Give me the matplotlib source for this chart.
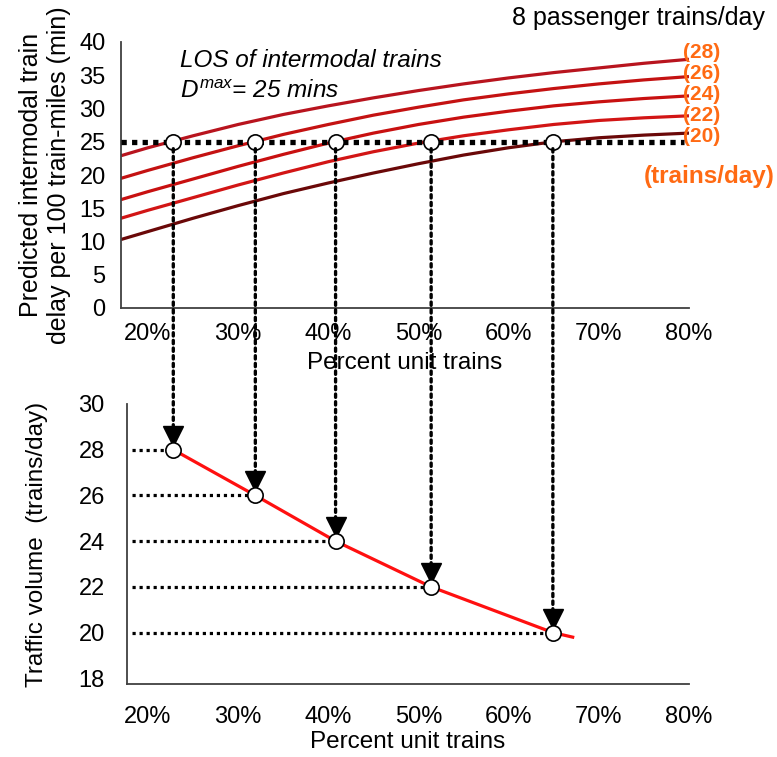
import matplotlib
matplotlib.use("Agg")
import matplotlib.pyplot as plt
import matplotlib.transforms as mtransforms
from matplotlib.patches import ConnectionPatch

plt.rcParams['font.family'] = ['Liberation Sans', 'DejaVu Sans']
plt.rcParams['mathtext.fontset'] = 'custom'
plt.rcParams['mathtext.rm'] = 'Liberation Sans'
plt.rcParams['mathtext.it'] = 'Liberation Sans:italic'

# top chart: delay vs percent unit trains, one curve per traffic level
pct_unit = [17, 20, 25, 30, 35, 40, 45, 50, 55, 60, 65, 70, 75, 80]
delay_28 = [22.9, 24.1, 25.9, 27.6, 29.1, 30.4, 31.6, 32.7, 33.7, 34.6, 35.4, 36.1, 36.8, 37.4]
delay_26 = [19.5, 20.7, 22.6, 24.4, 26.1, 27.6, 29.0, 30.2, 31.3, 32.2, 33.0, 33.7, 34.3, 34.8]
delay_24 = [16.3, 17.5, 19.4, 21.3, 23.1, 24.8, 26.3, 27.6, 28.7, 29.6, 30.4, 31.0, 31.5, 31.9]
delay_22 = [13.5, 14.7, 16.6, 18.5, 20.3, 22.0, 23.5, 24.8, 25.9, 26.8, 27.6, 28.2, 28.6, 28.9]
delay_20 = [10.3, 11.5, 13.5, 15.4, 17.2, 18.8, 20.3, 21.7, 23.0, 24.1, 25.0, 25.6, 26.0, 26.3]
curve_labels = ['(28)', '(26)', '(24)', '(22)', '(20)']
curve_colors = ['#B8141E', '#C41212', '#C81010', '#D21515', '#6A0808']
d_max = 25

# bottom chart: traffic volume reaching D_max
cross_pct = [22.8, 31.9, 40.8, 51.4, 64.9]
cross_volume = [28, 26, 24, 22, 20]
line_pct = [22.8, 31.9, 40.8, 51.4, 64.9, 67.1]
line_volume = [28, 26, 24, 22, 20, 19.8]

x_ticks = [20, 30, 40, 50, 60, 70, 80]
x_ticklabels = ['20%', '30%', '40%', '50%', '60%', '70%', '80%']

W, H = 777, 757
fig = plt.figure(figsize=(W / 100, H / 100), dpi=100)
ax1 = fig.add_axes([121 / W, 1 - 308 / H, 568 / W, 266 / H])
ax2 = fig.add_axes([127 / W, 1 - 684 / H, 562 / W, 280 / H])

for ax in (ax1, ax2):
    for s in ('top', 'right'):
        ax.spines[s].set_visible(False)
    for s in ('left', 'bottom'):
        ax.spines[s].set_color('#404040')
        ax.spines[s].set_linewidth(1.3)
    ax.tick_params(length=0, labelsize=17)
    ax.set_xticks(x_ticks)
    ax.set_xticklabels(x_ticklabels)

# top chart
ax1.set_xlim(17, 80)
ax1.set_ylim(0, 40)
ax1.set_yticks(range(0, 41, 5))
ax1.tick_params(axis='y', pad=11)
ax1.tick_params(axis='x', pad=11)
ax1.set_xlabel('Percent unit trains', fontsize=17.5, labelpad=5)
ax1.set_ylabel('Predicted intermodal train\ndelay per 100 train-miles (min)', fontsize=18, labelpad=6)

curves = [delay_28, delay_26, delay_24, delay_22, delay_20]
label_dy = [5.0, 2.0, 0.7, 0.2, -2.4]
for vals, lab, col, dy in zip(curves, curve_labels, curve_colors, label_dy):
    ax1.plot(pct_unit, vals, color=col, lw=2.3, solid_capstyle='butt', zorder=2)
    ax1.annotate(lab, (80, vals[-1]), xytext=(-4.5, dy), textcoords='offset points',
                 ha='left', va='center', color='#FF6A13', fontsize=15, fontweight='bold',
                 annotation_clip=False)

ax1.plot([17, 79.5], [d_max, d_max], color='black', lw=3.8, linestyle=(0, (1, 1)), zorder=3)
ax1.plot(cross_pct, [d_max] * len(cross_pct), 'o', ms=11, mfc='white', mec='black', mew=1.2, zorder=5)

ax1.text(23.5, 37.2, 'LOS of intermodal trains', fontsize=17.5, style='italic', va='center')
ax1.text(23.5, 32.6, r'$D^{max}$= 25 mins', fontsize=17.5, style='italic', va='center')
fig.text(765 / W, 1 - 18 / H, '8 passenger trains/day', fontsize=18, ha='right', va='center')
fig.text(775 / W, 1 - 176 / H, '(trains/day)', fontsize=17.5, ha='right', va='center',
         color='#FF6A13', fontweight='bold')

# bottom chart
ax2.set_xlim(17 + 6 / 9.016, 80)
ax2.set_ylim(17.75, 30)
ax2.set_yticks(range(18, 31, 2))
ax2.tick_params(axis='y', pad=16)
ax2.tick_params(axis='x', pad=16)
ax2.set_xlabel('Percent unit trains', fontsize=17.5, labelpad=2)
ax2.set_ylabel('Traffic volume  (trains/day)', fontsize=17.5, labelpad=22)

ax2.plot(line_pct, line_volume, color='#FF1010', lw=2.3, zorder=2)
x0 = ax2.get_xlim()[0] + 0.5
for p, v in zip(cross_pct, cross_volume):
    ax2.plot([x0, p], [v, v], color='black', lw=2.3, linestyle=(0, (1, 1.2)), zorder=1)
ax2.plot(cross_pct, cross_volume, 'o', ms=11, mfc='white', mec='black', mew=1.2, zorder=5)

# arrowheads just above the bottom points
tri_tr = mtransforms.offset_copy(ax2.transData, fig=fig, x=0, y=14, units='dots')
ax2.plot(cross_pct, cross_volume, 'v', ms=14, color='black', transform=tri_tr, zorder=4)

# dotted links from top points to bottom points
for p, v in zip(cross_pct, cross_volume):
    con = ConnectionPatch(xyA=(p, d_max), coordsA=ax1.transData,
                          xyB=(p, v), coordsB=ax2.transData,
                          color='black', lw=2.4, linestyle=(0, (1, 1.3)),
                          shrinkA=5, shrinkB=14, zorder=0.5)
    fig.add_artist(con)

fig.savefig('out.png', dpi=100)
